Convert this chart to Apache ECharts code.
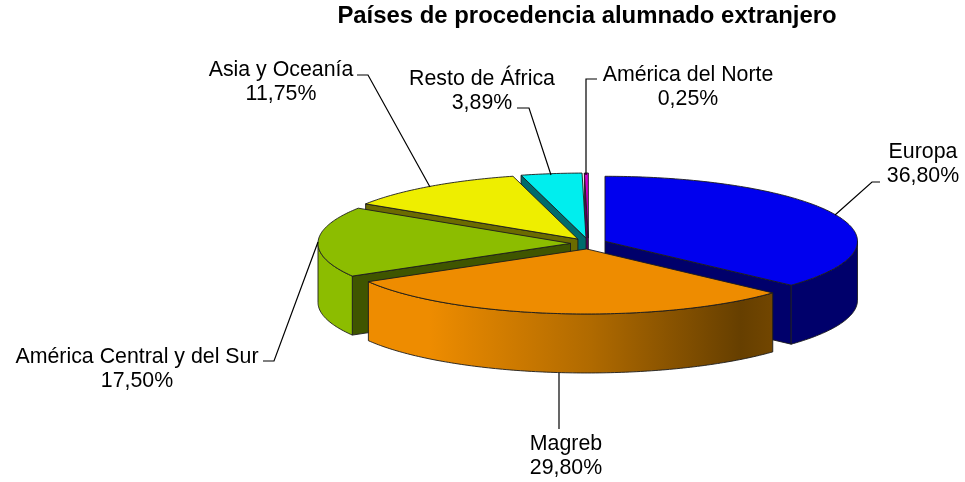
<!DOCTYPE html>
<html>
<head>
<meta charset="utf-8">
<style>html,body{margin:0;padding:0;background:#fff}#c{width:965px;height:482px}</style>
<script src="https://cdn.jsdelivr.net/npm/echarts@6/dist/echarts.min.js"></script>
</head>
<body>
<div id="c"></div>
<script>
// Data
var categories = ['Europa', 'Magreb', 'América Central y del Sur', 'Asia y Oceanía', 'Resto de África', 'América del Norte'];
var shares = [36.80, 29.80, 17.50, 11.75, 3.89, 0.25];
var chartTitle = 'Países de procedencia alumnado extranjero';

// Styles
var topColors = ['#0000EE', '#EE8C00', '#8CBD00', '#EEEE00', '#00EEEE', '#D000D0'];
var wallColors = ['#00006B', '#6B3F00', '#3F5500', '#6B6B00', '#006B6B', '#5E005E'];
var rimColors = ['#00006B', null, '#8CBD00', '#EEEE00', '#00EEEE', '#D000D0'];
var paintRank = [4, 5, 3, 2, 1, 0]; // larger rank is painted later

// Layout of the projected pie
var C = { x: 588.5, y: 243.5, rx: 252.5, ry: 65, depth: 59, explodeX: 18, explodeY: 5.5 };
var total = shares.reduce(function (a, b) { return a + b; }, 0);

// Label layout: centre of text, leader polyline
var labelAt = [
  { x: 923, y: 164, line: [[880, 182], [872, 182], [835, 215]] },
  { x: 566, y: 456, line: [[559, 429], [559, 373]] },
  { x: 137, y: 369, line: [[263, 361], [274, 361], [318, 242]] },
  { x: 281, y: 82, line: [[357, 75], [368, 75], [430, 187]] },
  { x: 482, y: 91, line: [[517, 108], [529, 108], [551, 175]] },
  { x: 688, y: 87, line: [[597, 79], [586, 79], [586, 175]] }
];

function pct(v) { return v.toFixed(2).replace('.', ',') + '%'; }

function sliceAngles(i) {
  var a = 0;
  for (var k = 0; k < i; k++) a += shares[k];
  return [a / total * Math.PI * 2, (a + shares[i]) / total * Math.PI * 2];
}

function renderSlice(params, api) {
  var i = params.dataIndex;
  var ang = sliceAngles(i), t0 = ang[0], t1 = ang[1], mid = (t0 + t1) / 2;
  var cx = C.x + C.explodeX * Math.sin(mid);
  var cy = C.y - C.explodeY * Math.cos(mid);
  function pt(t, dz) { return [cx + C.rx * Math.sin(t), cy - C.ry * Math.cos(t) + (dz || 0)]; }
  function arc(a, b, dz) {
    var n = Math.max(2, Math.ceil(Math.abs(b - a) / 0.015)), out = [];
    for (var j = 0; j <= n; j++) out.push(pt(a + (b - a) * j / n, dz));
    return out;
  }
  var stroke = { stroke: '#1c1c1c', lineWidth: 0.9, lineJoin: 'round' };
  var z = paintRank[i] * 10 + 10;
  function poly(points, fill, zz) {
    return { type: 'polygon', shape: { points: points }, z2: z + (zz || 0),
      style: Object.assign({ fill: fill }, stroke), silent: true };
  }
  var kids = [];
  // cut faces that look toward the viewer
  [t0, t1].forEach(function (t, k) {
    var visible = k === 0 ? Math.sin(t) < -0.001 : Math.sin(t) > 0.001;
    if (visible) {
      kids.push(poly([[cx, cy], pt(t), pt(t, C.depth), [cx, cy + C.depth]], wallColors[i], 1));
    }
  });
  // outer rim, front half only
  var a = Math.max(t0, Math.PI / 2), b = Math.min(t1, Math.PI * 1.5);
  if (b > a) {
    var pts = arc(a, b, 0).concat(arc(b, a, C.depth));
    var fill = rimColors[i];
    if (!fill) {
      fill = new echarts.graphic.LinearGradient(1, 0, 0, 0, [
        { offset: 0, color: '#724600' },
        { offset: 0.08, color: '#663F00' },
        { offset: 0.45, color: '#B06A00' },
        { offset: 0.85, color: '#EE8C00' },
        { offset: 1, color: '#EE8C00' }
      ]);
    }
    kids.push(poly(pts, fill, 2));
  }
  // top face
  kids.push(poly([[cx, cy]].concat(arc(t0, t1, 0)), topColors[i], 3));
  // leader and label
  kids.push({ type: 'polyline', shape: { points: labelAt[i].line }, z2: 200, silent: true,
    style: { stroke: '#000', lineWidth: 1.2, fill: 'none' } });
  kids.push({ type: 'text', z2: 201, silent: true, style: {
    x: labelAt[i].x, y: labelAt[i].y,
    text: categories[i] + '\n' + pct(api.value(0)),
    align: 'center', verticalAlign: 'middle',
    fontFamily: '"Liberation Sans", Arial, sans-serif', fontSize: 21.33, lineHeight: 24, fill: '#000' } });
  return { type: 'group', children: kids };
}

var chart = echarts.init(document.getElementById('c'), null, { renderer: 'canvas' });
chart.setOption({
  animation: false,
  backgroundColor: '#fff',
  title: {
    text: chartTitle, left: 582, top: -1, textAlign: 'center',
    textStyle: { fontFamily: '"Liberation Sans", Arial, sans-serif', fontSize: 23.9, fontWeight: 'bold', color: '#000' }
  },
  series: [{
    type: 'custom',
    coordinateSystem: 'none',
    renderItem: renderSlice,
    clip: false,
    data: shares.map(function (v, i) { return { name: categories[i], value: [v] }; })
  }]
});
</script>
</body>
</html>
